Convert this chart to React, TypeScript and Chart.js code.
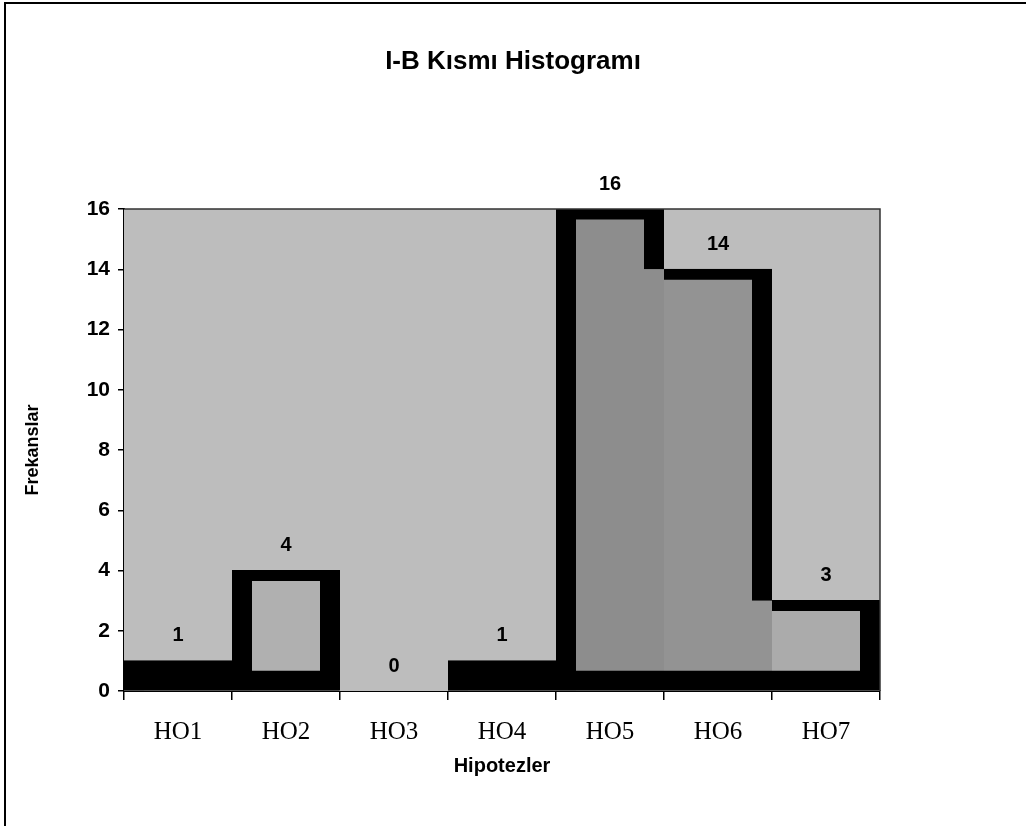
import React, { useEffect, useRef } from "react";
import { Chart, registerables } from "chart.js";

Chart.register(...registerables);

// ---- data ----
const categories = ["HO1", "HO2", "HO3", "HO4", "HO5", "HO6", "HO7"];
const frequencies = [1, 4, 0, 1, 16, 14, 3];
const yTickValues = [0, 2, 4, 6, 8, 10, 12, 14, 16];

const chartTitle = "I-B Kısmı Histogramı";
const xTitle = "Hipotezler";
const yTitle = "Frekanslar";

// ---- styling ----
const INK = "#000000";
const PLOT_BG = "#bdbdbd";
const barShades = ["#000000", "#b0b0b0", "#bdbdbd", "#000000", "#8d8d8d", "#939393", "#ababab"];
const SIDE = 20; // thickness of vertical outline walls and the bottom band
const CAP = 11; // thickness of the top edge of each bar

const SANS = "'Liberation Sans', Arial, Helvetica, sans-serif";
const SERIF = "'Liberation Serif', 'Times New Roman', serif";

// Histogram outline: a wall is drawn on a bar's side only where it rises
// above its neighbour. Neighbours of height <= 1 are solid black already,
// so the wall then runs down to the baseline.
const wallBase = (n: number) => (n <= 1 ? 0 : n);
const leftWalls = frequencies.map((v, i) => {
  const prev = i > 0 ? frequencies[i - 1] : 0;
  return v > prev ? [wallBase(prev), v] : null;
});
const rightWalls = frequencies.map((v, i) => {
  const next = i < frequencies.length - 1 ? frequencies[i + 1] : 0;
  return v > next ? [wallBase(next), v] : null;
});

const plotFrame = {
  id: "plotFrame",
  beforeDatasetsDraw(chart: any) {
    const { ctx, chartArea: a } = chart;
    ctx.save();
    ctx.fillStyle = PLOT_BG;
    ctx.fillRect(a.left, a.top, a.right - a.left, a.bottom - a.top);
    ctx.restore();
  },
  afterDatasetsDraw(chart: any) {
    const { ctx, chartArea: a } = chart;
    ctx.save();
    ctx.strokeStyle = "#333333";
    ctx.lineWidth = 1.5;
    ctx.beginPath();
    ctx.moveTo(a.left, a.top);
    ctx.lineTo(a.right, a.top);
    ctx.lineTo(a.right, a.bottom);
    ctx.stroke();
    ctx.restore();
  },
};

// Title centred on the whole canvas
const pageTitle = {
  id: "pageTitle",
  afterDraw(chart: any) {
    const { ctx } = chart;
    ctx.save();
    ctx.fillStyle = INK;
    ctx.font = `bold 26px ${SANS}`;
    ctx.textAlign = "center";
    ctx.textBaseline = "middle";
    ctx.fillText(chartTitle, chart.width / 2, 62);
    ctx.restore();
  },
};

const valueLabels = {
  id: "valueLabels",
  afterDatasetsDraw(chart: any) {
    const { ctx } = chart;
    const meta = chart.getDatasetMeta(0);
    ctx.save();
    ctx.fillStyle = INK;
    ctx.font = `bold 20px ${SANS}`;
    ctx.textAlign = "center";
    ctx.textBaseline = "middle";
    meta.data.forEach((el: any, i: number) => {
      ctx.fillText(String(frequencies[i]), el.x, el.y - 25);
    });
    ctx.restore();
  },
};

const wallDataset = (label: string, data: any, side: "left" | "right", order: number) => ({
  label,
  data,
  backgroundColor: "rgba(0,0,0,0)",
  borderColor: INK,
  borderWidth: { top: 0, bottom: 0, left: side === "left" ? SIDE : 0, right: side === "right" ? SIDE : 0 },
  borderSkipped: false,
  inflateAmount: 0,
  categoryPercentage: 1,
  barPercentage: 1,
  grouped: false,
  order,
});

export default function App() {
  const canvasRef = useRef<HTMLCanvasElement | null>(null);

  useEffect(() => {
    if (!canvasRef.current) return;
    const chart = new Chart(canvasRef.current, {
      type: "bar",
      data: {
        labels: categories,
        datasets: [
          {
            label: "Frekans",
            data: frequencies,
            backgroundColor: barShades,
            borderColor: INK,
            borderWidth: { top: CAP, bottom: SIDE, left: 0, right: 0 },
            borderSkipped: false,
            inflateAmount: 0.6,
            categoryPercentage: 1,
            barPercentage: 1,
            grouped: false,
            order: 2,
          } as any,
          wallDataset("left", leftWalls, "left", 1) as any,
          wallDataset("right", rightWalls, "right", 0) as any,
        ],
      },
      options: {
        responsive: false,
        maintainAspectRatio: false,
        animation: false,
        layout: { padding: { left: 0, right: 146, top: 209, bottom: 0 } },
        plugins: {
          legend: { display: false },
          tooltip: { enabled: false },
          title: { display: false },
        },
        scales: {
          x: {
            offset: true,
            grid: {
              offset: true,
              drawOnChartArea: false,
              drawTicks: true,
              tickLength: 9,
              color: INK,
              lineWidth: 1.5,
            },
            border: { display: true, color: INK, width: 2 },
            ticks: {
              color: INK,
              font: { family: SERIF, size: 25 },
              padding: 17,
            },
            title: {
              display: true,
              text: xTitle,
              color: INK,
              font: { family: SANS, size: 20, weight: "bold" },
              padding: { top: 0, bottom: 48 },
            },
            afterFit: (scale: any) => {
              scale.height = 135;
            },
          },
          y: {
            min: 0,
            max: 16,
            afterBuildTicks: (scale: any) => {
              scale.ticks = yTickValues.map((v) => ({ value: v }));
            },
            grid: {
              drawOnChartArea: false,
              drawTicks: true,
              tickLength: 6,
              color: INK,
              lineWidth: 1.5,
            },
            border: { display: true, color: INK, width: 2 },
            ticks: {
              color: INK,
              font: { family: SANS, size: 21, weight: "bold" },
              padding: 8,
            },
            title: {
              display: true,
              text: yTitle,
              color: INK,
              font: { family: SANS, size: 18, weight: "bold" },
              padding: { top: 22, bottom: 0 },
            },
            afterFit: (scale: any) => {
              scale.width = 124;
            },
          },
        },
      },
      plugins: [plotFrame, valueLabels, pageTitle],
    });
    return () => chart.destroy();
  }, []);

  return (
    <div style={{ position: "absolute", left: 0, top: 0, width: 1026, height: 826, background: "#ffffff" }}>
      <canvas ref={canvasRef} width={1026} height={826} style={{ display: "block" }} />
      <div
        style={{
          position: "absolute",
          left: 4,
          top: 2,
          width: 1022,
          height: 824,
          borderTop: "2px solid #000",
          borderLeft: "2px solid #000",
          boxSizing: "border-box",
          pointerEvents: "none",
        }}
      />
    </div>
  );
}
